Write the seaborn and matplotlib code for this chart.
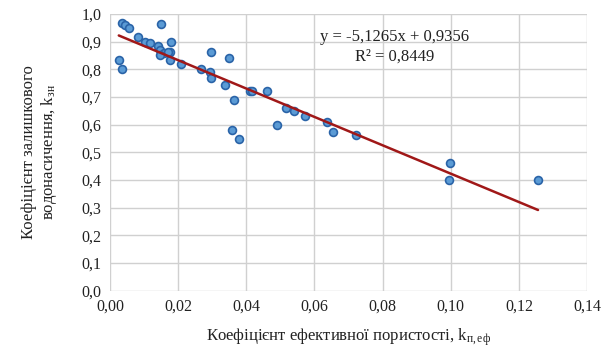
import matplotlib
matplotlib.use("Agg")
import matplotlib.pyplot as plt
import seaborn as sns
import numpy as np
import pandas as pd
from matplotlib.ticker import FuncFormatter, MultipleLocator

# Data
k_por = [0.0026, 0.0036, 0.0035, 0.0045, 0.0055, 0.0150, 0.0083, 0.0103, 0.0117,
         0.0142, 0.0147, 0.0160, 0.0176, 0.0178, 0.0147, 0.0171, 0.0176, 0.0208,
         0.0266, 0.0298, 0.0295, 0.0298, 0.0337, 0.0350, 0.0364, 0.0359, 0.0379,
         0.0410, 0.0418, 0.0460, 0.0490, 0.0518, 0.0540, 0.0572, 0.0637, 0.0655,
         0.0723, 0.0997, 0.0995, 0.1256]
k_wat = [0.834, 0.802, 0.969, 0.960, 0.950, 0.963, 0.918, 0.900, 0.894,
         0.884, 0.870, 0.860, 0.864, 0.900, 0.852, 0.864, 0.834, 0.818,
         0.800, 0.862, 0.790, 0.770, 0.743, 0.840, 0.690, 0.580, 0.550,
         0.720, 0.720, 0.720, 0.600, 0.660, 0.650, 0.630, 0.610, 0.572,
         0.563, 0.460, 0.400, 0.400]
slope = -5.1265
intercept = 0.9356
r2 = 0.8449

sns.set_theme(style="white")
plt.rcParams['font.family'] = ['Liberation Serif', 'DejaVu Serif']
plt.rcParams['mathtext.fontset'] = 'custom'
plt.rcParams['mathtext.rm'] = 'Liberation Serif'
plt.rcParams['mathtext.it'] = 'Liberation Serif:italic'

df = pd.DataFrame({"x": k_por, "y": k_wat})
xs = np.array([min(k_por), max(k_por)])
trend = pd.DataFrame({"x": xs, "y": slope * xs + intercept})

fig = plt.figure(figsize=(6.04, 3.49), dpi=100)
ax = fig.add_axes([0.182, 0.167, 0.790, 0.793])

sns.scatterplot(data=df, x="x", y="y", ax=ax, s=32, color="#5B9BD5",
                edgecolor="#2A64A8", linewidth=1.2, zorder=3)
sns.lineplot(data=trend, x="x", y="y", ax=ax, color="#A01818", linewidth=1.8, zorder=4)

ax.set_xlim(0, 0.14)
ax.set_ylim(0, 1.0)
ax.xaxis.set_major_locator(MultipleLocator(0.02))
ax.yaxis.set_major_locator(MultipleLocator(0.1))
ax.xaxis.set_major_formatter(FuncFormatter(lambda v, p: f"{v:.2f}".replace('.', ',')))
ax.yaxis.set_major_formatter(FuncFormatter(lambda v, p: f"{v:.1f}".replace('.', ',')))
ax.grid(True, color="#D0D0D0", linewidth=1.0)
ax.set_axisbelow(True)
for s in ax.spines.values():
    s.set_visible(False)
ax.tick_params(axis='both', labelsize=11.5, length=0, pad=6, colors="#222222")

ax.set_xlabel(r"Коефіцієнт ефективної пористості, k$_{\mathrm{п,еф}}$", fontsize=12,
              color="#222222", labelpad=8)
ax.set_ylabel("Коефіцієнт залишкового\n" + r"водонасичення, k$_{\mathrm{зн}}$",
              fontsize=12, color="#222222", labelpad=16)

ax.text(0.0835, 0.915, "y = -5,1265x + 0,9356", fontsize=12, ha='center', va='center',
        color="#222222")
ax.text(0.0835, 0.845, "R² = 0,8449", fontsize=12, ha='center', va='center',
        color="#222222")

fig.savefig("out.png", dpi=100)
